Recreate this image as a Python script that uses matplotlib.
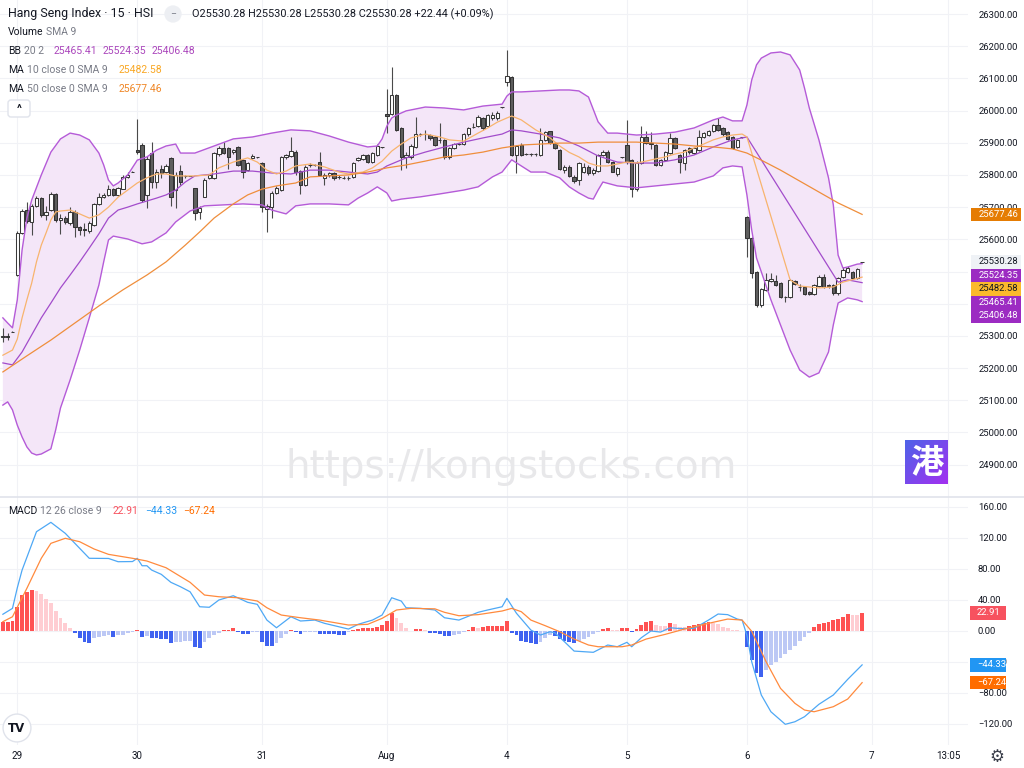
import matplotlib
matplotlib.use('Agg')
import matplotlib.pyplot as plt
import numpy as np
from matplotlib.patches import Rectangle, FancyBboxPatch
from matplotlib.ticker import FuncFormatter
from matplotlib.transforms import IdentityTransform
from matplotlib.lines import Line2D

plt.rcParams['font.family'] = ['Roboto', 'DejaVu Sans']

# ---------------- 15 min candles, Jul 28 tail .. Aug 6 ----------------
OPEN = [
    25296, 25300, 25313,
    # Jul 29
    25489, 25619, 25691, 25655, 25704, 25728, 25676, 25690, 25741, 25660, 25666, 25652, 25686,
    25639, 25633, 25627, 25645, 25710, 25731, 25738, 25757, 25738, 25757, 25794, 25810,
    # Jul 30
    25877, 25893, 25738, 25867, 25779, 25819, 25810, 25852, 25753, 25812, 25797, 25797, 25758,
    25685, 25733, 25790, 25790, 25864, 25883, 25885, 25870, 25886, 25846, 25815, 25852, 25855,
    # Jul 31
    25836, 25693, 25701, 25743, 25753, 25855, 25859, 25872, 25812, 25769, 25831, 25831, 25841,
    25790, 25800, 25807, 25795, 25792, 25791, 25794, 25845, 25849, 25862, 25841, 25862, 25886,
    # Aug 1
    25989, 25989, 26048, 25945, 25855, 25857, 25888, 25926, 25926, 25924, 25917, 25909, 25909,
    25855, 25883, 25896, 25896, 25926, 25948, 25952, 25976, 25952, 25976, 25976, 26010,
    # Aug 4
    26090, 26105, 25862, 25893, 25865, 25864, 25864, 25862, 25909, 25935, 25900, 25877, 25815,
    25826, 25795, 25784, 25810, 25826, 25805, 25812, 25862, 25872, 25839, 25802, 25855,
    # Aug 5
    25893, 25846, 25755, 25838, 25919, 25900, 25893, 25831, 25846, 25867, 25914, 25862, 25836,
    25883, 25867, 25877, 25919, 25925, 25935, 25955, 25945, 25932, 25917, 25888, 25917,
    # Aug 6
    25668, 25603, 25499, 25396, 25443, 25470, 25471, 25465, 25420, 25422, 25471, 25451, 25451,
    25437, 25430, 25455, 25484, 25458, 25458, 25432, 25482, 25499, 25499, 25479, 25530.28,
]
HIGH = [
    25325, 25310, 25315,
    25625, 25695, 25717, 25710, 25735, 25730, 25704, 25748, 25745, 25680, 25672, 25700, 25690,
    25642, 25651, 25658, 25712, 25745, 25745, 25769, 25760, 25763, 25800, 25810, 25812,
    25973, 25898, 25860, 25903, 25820, 25830, 25835, 25856, 25810, 25831, 25801, 25798, 25760,
    25703, 25790, 25804, 25870, 25890, 25901, 25888, 25880, 25890, 25850, 25840, 25866, 25857,
    25840, 25710, 25750, 25765, 25860, 25866, 25919, 25878, 25815, 25832, 25837, 25833, 25872,
    25805, 25810, 25810, 25800, 25798, 25796, 25840, 25856, 25866, 25866, 25870, 25895, 25888,
    26066, 26136, 26050, 25950, 25870, 25895, 25981, 25930, 25940, 25928, 25920, 25960, 25912,
    25886, 25900, 25900, 25930, 25948, 25960, 25985, 25980, 25990, 25995, 25998, 26012,
    26188, 26108, 25892, 25898, 25869, 25868, 25868, 25945, 25935, 25938, 25903, 25880, 25830,
    25830, 25800, 25840, 25838, 25830, 25822, 25866, 25876, 25876, 25842, 25825, 25857,
    25971, 25850, 25842, 25952, 25935, 25932, 25896, 25850, 25875, 25930, 25918, 25865, 25880,
    25886, 25886, 25940, 25932, 25940, 25958, 25976, 25948, 25935, 25920, 25912, 25919,
    25672, 25606, 25502, 25448, 25494, 25494, 25488, 25468, 25425, 25476, 25474, 25460, 25454,
    25440, 25460, 25488, 25492, 25462, 25460, 25482, 25515, 25517, 25502, 25510, 25530.28,
]
LOW = [
    25282, 25286, 25311,
    25485, 25615, 25650, 25613, 25700, 25670, 25660, 25688, 25655, 25618, 25648, 25645, 25608,
    25612, 25610, 25619, 25640, 25706, 25728, 25736, 25736, 25735, 25755, 25790, 25808,
    25865, 25717, 25696, 25760, 25760, 25790, 25805, 25702, 25696, 25770, 25792, 25796, 25660,
    25662, 25730, 25787, 25788, 25860, 25865, 25820, 25866, 25828, 25790, 25812, 25850, 25853,
    25686, 25624, 25666, 25740, 25750, 25850, 25856, 25800, 25740, 25766, 25826, 25829, 25798,
    25769, 25795, 25785, 25788, 25786, 25785, 25790, 25842, 25845, 25838, 25838, 25860, 25884,
    25929, 25985, 25935, 25815, 25821, 25850, 25885, 25922, 25910, 25910, 25890, 25900, 25850,
    25850, 25880, 25892, 25894, 25922, 25945, 25948, 25940, 25948, 25972, 25972, 26008,
    26076, 25860, 25805, 25858, 25861, 25860, 25860, 25858, 25905, 25895, 25880, 25815, 25805,
    25795, 25775, 25770, 25805, 25800, 25800, 25808, 25858, 25838, 25808, 25798, 25853,
    25835, 25733, 25750, 25835, 25895, 25880, 25828, 25828, 25843, 25865, 25880, 25805, 25815,
    25866, 25864, 25874, 25916, 25922, 25932, 25937, 25922, 25908, 25880, 25885, 25915,
    25546, 25480, 25390, 25390, 25440, 25466, 25455, 25418, 25405, 25418, 25458, 25440, 25428,
    25426, 25428, 25452, 25450, 25450, 25428, 25428, 25480, 25496, 25476, 25476, 25530.28,
]
CLOSE = [
    25300, 25297, 25313,
    25621, 25689, 25658, 25704, 25728, 25676, 25686, 25741, 25660, 25666, 25655, 25685, 25639,
    25630, 25630, 25651, 25710, 25733, 25738, 25757, 25738, 25760, 25794, 25800, 25810,
    25870, 25722, 25849, 25779, 25810, 25805, 25829, 25732, 25800, 25777, 25797, 25797, 25681,
    25697, 25784, 25800, 25867, 25883, 25867, 25857, 25877, 25831, 25808, 25836, 25859, 25855,
    25701, 25703, 25743, 25759, 25857, 25862, 25874, 25810, 25769, 25826, 25831, 25831, 25800,
    25800, 25807, 25790, 25795, 25792, 25791, 25836, 25853, 25862, 25841, 25867, 25890, 25886,
    25983, 26048, 25940, 25857, 25862, 25890, 25926, 25926, 25926, 25914, 25893, 25909, 25855,
    25883, 25896, 25896, 25926, 25945, 25950, 25979, 25945, 25986, 25986, 25993, 26010,
    26107, 25862, 25890, 25862, 25865, 25864, 25864, 25909, 25932, 25898, 25883, 25818, 25824,
    25798, 25781, 25836, 25826, 25805, 25815, 25862, 25872, 25841, 25810, 25821, 25855,
    25841, 25755, 25838, 25919, 25898, 25895, 25831, 25846, 25871, 25914, 25883, 25841, 25877,
    25870, 25883, 25919, 25929, 25937, 25955, 25940, 25926, 25911, 25883, 25909, 25917,
    25603, 25494, 25396, 25445, 25474, 25477, 25458, 25422, 25420, 25474, 25461, 25451, 25430,
    25430, 25458, 25484, 25453, 25456, 25432, 25479, 25505, 25510, 25479, 25507.84, 25530.28,
]

DAY_TICKS = [3, 28, 54, 80, 105, 130, 155, 181, 196.9]
DAY_LABELS = ['29', '30', '31', 'Aug', '4', '5', '6', '7', '13:05']

# ---------------- indicators (bar index, value) ----------------
BB_UP_X = [0, 1, 2, 3, 4, 5, 6, 8, 10, 12, 14, 16, 18, 20, 21, 22, 23, 24, 26, 28, 30, 32, 34, 36,
           37, 40, 44, 48, 52, 56, 60, 64, 68, 72, 76, 78, 79, 80, 81, 82, 84, 88, 92, 96, 100,
           104, 105, 106, 108, 112, 116, 118, 120, 122, 124, 126, 128, 132, 136, 140, 144, 148,
           150, 152, 154, 155, 156, 157, 158, 160, 162, 164, 166, 167, 168, 170, 172, 173, 174,
           175, 176, 178, 179]
BB_UP = [25356, 25340, 25325, 25412, 25567, 25666, 25722, 25800, 25871, 25912, 25930, 25924,
         25909, 25868, 25831, 25784, 25766, 25775, 25800, 25846, 25856, 25877, 25890, 25896,
         25868, 25868, 25890, 25912, 25918, 25930, 25940, 25937, 25921, 25902, 25887, 25890,
         25912, 25952, 25977, 25986, 25999, 26011, 26008, 26002, 26014, 26020, 26045, 26058,
         26058, 26061, 26064, 26064, 26061, 26042, 25965, 25930, 25930, 25924, 25927, 25933,
         25946, 25971, 25980, 25968, 25968, 26017, 26095, 26142, 26163, 26179, 26182, 26173,
         26126, 26070, 26008, 25909, 25791, 25707, 25551, 25511, 25514, 25523, 25524.35]

BB_MID_X = [0, 2, 4, 6, 8, 10, 12, 14, 16, 18, 20, 22, 24, 26, 28, 30, 32, 34, 36, 38, 40, 44,
            48, 52, 56, 60, 64, 68, 72, 76, 78, 80, 84, 88, 92, 96, 100, 104, 106, 108, 112,
            116, 120, 124, 128, 132, 136, 140, 144, 148, 152, 155, 174, 176, 179]
BB_MID = [25216, 25210, 25250, 25303, 25356, 25402, 25449, 25489, 25530, 25573, 25617, 25666,
          25691, 25700, 25710, 25719, 25728, 25738, 25753, 25778, 25797, 25803, 25812, 25812,
          25806, 25803, 25815, 25815, 25809, 25803, 25809, 25828, 25853, 25871, 25887, 25902,
          25915, 25927, 25940, 25937, 25927, 25915, 25890, 25859, 25840, 25837, 25837, 25847,
          25862, 25887, 25909, 25918, 25467, 25474, 25465.41]

BB_LOW_X = [0, 1, 2, 3, 4, 5, 6, 7, 8, 10, 11, 12, 14, 16, 18, 20, 21, 22, 23, 26, 29, 31, 34,
            36, 39, 42, 46, 50, 54, 56, 59, 61, 64, 68, 72, 74, 76, 78, 80, 81, 83, 87, 91, 96,
            99, 102, 104, 106, 108, 110, 113, 116, 118, 120, 122, 123, 124, 125, 128, 132, 136,
            140, 144, 148, 150, 152, 154, 155, 156, 157, 158, 160, 162, 164, 166, 168, 170, 172,
            173, 174, 176, 178, 179]
BB_LOW = [25085, 25095, 25070, 25023, 24986, 24955, 24936, 24930, 24933, 24949, 25008, 25076,
          25163, 25256, 25356, 25458, 25530, 25598, 25610, 25601, 25586, 25592, 25620, 25654,
          25688, 25704, 25707, 25710, 25707, 25691, 25679, 25704, 25710, 25710, 25707, 25728,
          25744, 25763, 25744, 25719, 25725, 25732, 25741, 25753, 25763, 25794, 25809, 25847,
          25828, 25809, 25809, 25791, 25763, 25744, 25728, 25725, 25753, 25778, 25766, 25760,
          25766, 25772, 25778, 25797, 25822, 25828, 25825, 25738, 25629, 25542, 25499, 25412,
          25334, 25256, 25194, 25172, 25185, 25250, 25334, 25402, 25418, 25412, 25406.48]

MA10_X = [0, 2, 3, 4, 5, 6, 7, 8, 9, 10, 11, 12, 14, 16, 18, 20, 22, 24, 26, 28, 30, 32, 34, 36,
          40, 43, 45, 48, 51, 53, 55, 57, 59, 61, 64, 67, 70, 72, 75, 77, 79, 81, 83, 85, 88,
          91, 93, 96, 99, 101, 103, 105, 106, 108, 111, 114, 116, 118, 120, 122, 124, 126, 128,
          130, 132, 134, 136, 138, 140, 142, 144, 146, 148, 150, 152, 154, 155, 164, 166, 170,
          173, 175, 179]
MA10 = [25240, 25256, 25290, 25356, 25412, 25464, 25530, 25582, 25620, 25660, 25685, 25688,
        25691, 25679, 25666, 25676, 25700, 25731, 25753, 25775, 25791, 25803, 25803, 25797,
        25797, 25800, 25822, 25840, 25853, 25840, 25815, 25803, 25812, 25828, 25834, 25825,
        25809, 25803, 25809, 25822, 25843, 25874, 25896, 25915, 25927, 25918, 25909, 25905,
        25930, 25946, 25964, 25977, 25983, 25971, 25940, 25915, 25890, 25870, 25856, 25837,
        25828, 25828, 25834, 25840, 25837, 25843, 25850, 25856, 25865, 25871, 25884, 25896,
        25909, 25918, 25924, 25927, 25918, 25474, 25455, 25449, 25452, 25467, 25482.58]

MA50_X = [0, 5, 10, 15, 20, 25, 30, 34, 38, 41, 44, 48, 51, 54, 57, 61, 64, 68, 72, 76, 80, 84,
          88, 92, 96, 100, 104, 108, 112, 116, 120, 124, 128, 132, 136, 140, 144, 148, 152, 155,
          158, 162, 166, 170, 174, 179]
MA50 = [25188, 25238, 25287, 25340, 25393, 25443, 25489, 25530, 25582, 25623, 25666, 25710,
        25738, 25756, 25766, 25775, 25794, 25797, 25800, 25809, 25822, 25831, 25843, 25856,
        25862, 25871, 25884, 25893, 25896, 25899, 25899, 25902, 25902, 25902, 25899, 25896,
        25890, 25887, 25881, 25868, 25846, 25815, 25781, 25747, 25713, 25677.46]

MACD_X = [0, 2, 3, 4, 7, 10, 13, 15, 18, 22, 24, 27, 28, 29, 30, 31, 33, 35, 37, 39, 41, 43, 45,
          48, 51, 53, 55, 57, 60, 62, 65, 67, 72, 74, 77, 79, 81, 83, 84, 87, 90, 92, 95, 99,
          101, 104, 105, 107, 110, 112, 114, 115, 117, 119, 123, 126, 128, 130, 131, 133, 135,
          137, 139, 141, 144, 147, 149, 151, 153, 154, 155, 156, 158, 160, 163, 165, 167, 170,
          173, 176, 179]
MACD = [21, 28.6, 55, 78, 127.5, 139.6, 125.4, 112.5, 93.2, 93, 88.8, 89, 93.2, 83.6, 83.6, 78,
        72.5, 62.2, 56.5, 50, 30.7, 30, 39.4, 44.9, 36.4, 33.8, 13.5, 3.6, 17.8, 12.3, 13.5, 9.3,
        1.9, 8, 13.5, 20, 42.3, 38, 29.4, 28.6, 26.5, 16.5, 13.5, 23.5, 26.5, 30.7, 41.5, 22.2,
        0.6, -5.8, -1.5, -3, -14.5, -26.5, -28.1, -18.7, -20.9, -15.2, -20.9, -9.3, -0.6, -2,
        3.6, 2.5, 2.8, 13.5, 21.3, 20.5, 14.8, 13.5, -6, -40.3, -83.2, -104.8, -121, -117.7,
        -111.2, -95.2, -83.2, -63, -44.33]

SIG_X = [0, 2, 5, 8, 10, 13, 16, 19, 22, 27, 30, 34, 39, 42, 45, 49, 53, 55, 58, 62, 66, 72, 76,
         79, 82, 85, 90, 92, 95, 99, 104, 106, 108, 110, 113, 116, 119, 122, 124, 129, 131, 134,
         138, 142, 147, 151, 154, 156, 159, 162, 165, 167, 169, 173, 176, 179]
SIGNAL = [11.4, 17.8, 54.5, 93.2, 112.5, 119, 114.6, 105.2, 98.3, 93.2, 89.7, 81, 62.2, 45.8,
          43.6, 42.3, 38.1, 29.4, 20, 16.5, 13.5, 7.1, 8, 15.7, 26.5, 28.6, 28, 23.5, 19.1, 20.5,
          25.2, 28.6, 24.3, 13.5, 6.2, -1.5, -11, -18.7, -20.9, -20.9, -18.7, -11, -4.9, 1.9,
          9.3, 14.8, 13.5, -1, -40.3, -74.6, -93.9, -102.6, -104.8, -98.3, -88.4, -67.24]

HIST = [
    10.5, 11, 12, 30.8, 45.8, 50.1, 52.3, 51, 46.7, 40.6,
    35.1, 25.2, 16.6, 9.2, 3.7, -3.7, -9.2, -14.4, -15.7, -10.1,
    -8, -6.7, -5.8, -8, -6.4, -5.8, -3.2, -2, 0.6, -8,
    -6.7, -9.2, -10.1, -10.4, -11, -15.7, -14.4, -14.2, -14, -13.8,
    -20.9, -22.2, -15.3, -9, -5.8, -2.8, 0.6, 1.1, 2.8, -1.5,
    -4.9, -5, -2.4, -2, -14.4, -19.6, -20, -16.6, -10.1, -4,
    0.6, -1.5, -4.9, -2.4, -2.2, -2, -4, -4.5, -4.9, -5,
    -5.2, -5.5, -2.4, 1, 2.5, 3, 3.5, 3.7, 4, 7.1,
    12.3, 22.2, 15.7, 9.2, 2.8, -0.5, 1.5, 1.6, 1, -2.8,
    -3.7, -4.2, -6.7, -6.8, -5.8, -4.9, -2, 1.1, 4.1, 2.8,
    5, 5.4, 5.6, 5.8, 6, 12.3, -3, -5.8, -13, -15.3,
    -16.6, -16.8, -14.4, -9.2, -5.8, -6.7, -11, -13.5, -15.3, -16.6,
    -13.5, -11, -8, -4.9, -1.5, 1.9, 2.8, 0.8, 0.6, 3.7,
    3.8, -1.5, 1.9, 7.1, 10.5, 12.3, 7.1, 5.8, 5.6, 9.2,
    8, 4.9, 4.7, 5.5, 7.1, 8, 9.2, 10.5, 10, 8,
    4.9, 2.8, 0.6, 0.4, -0.3, -20.9, -38, -55.3, -59.6, -51,
    -44.5, -40.2, -35.9, -30, -25.5, -20, -14, -8.5, -3.7, 4.9,
    8, 10.3, 10.6, 13, 15.5, 18, 20.9, 20.2, 20, 22.91,
]

W, H = 1024, 768
PX = IdentityTransform()
DARK = '#131722'
GRAY = '#787B86'
GRID = '#F1F2F6'
PURPLE = '#AB47BC'
TICK_FS = 6.8
LEG_FS = 7.5

fig = plt.figure(figsize=(W / 100, H / 100), dpi=100)
fig.patch.set_facecolor('white')
ax = fig.add_axes([0, 1 - 497 / H, 968 / W, 497 / H])
ax2 = fig.add_axes([0, 1 - 745 / H, 968 / W, 248 / H], sharex=ax)

for a in (ax, ax2):
    for s in a.spines.values():
        s.set_visible(False)
    a.set_axisbelow(True)
    a.grid(True, color=GRID, lw=0.8)
    a.yaxis.tick_right()
    a.tick_params(axis='both', length=0, labelsize=TICK_FS, labelcolor=DARK)

ax.set_xlim(-0.6, 201.06)
ax.set_xticks(DAY_TICKS)
ax2.set_xticklabels(DAY_LABELS)
ax.tick_params(axis='x', labelbottom=False)
ax2.tick_params(axis='x', labelsize=7.1, pad=4.5)

ax.set_ylim(24799.5, 26343.5)
ax.set_yticks(np.arange(24900, 26301, 100))
ax.tick_params(axis='y', pad=8)

ax2.set_ylim(-147.7, 172.3)
ax2.set_yticks(np.arange(-120, 161, 40))
ax2.yaxis.set_major_formatter(FuncFormatter(lambda v, p: f'{v:.2f}'.replace('-', '\u2212')))
ax2.tick_params(axis='y', pad=7.2)

# Bollinger band fill + lines
ax.fill(np.r_[BB_UP_X, BB_LOW_X[::-1]], np.r_[BB_UP, BB_LOW[::-1]],
        color='#F4E6F8', lw=0, zorder=1)
ax.plot(BB_UP_X, BB_UP, color='#B55BD8', lw=1.0, zorder=5)
ax.plot(BB_LOW_X, BB_LOW, color='#B55BD8', lw=1.0, zorder=5)
ax.plot(BB_MID_X, BB_MID, color='#A24CCB', lw=0.9, zorder=5)
ax.plot(MA10_X, MA10, color='#F8B46E', lw=0.9, zorder=5)
ax.plot(MA50_X, MA50, color='#EF8E3C', lw=0.9, zorder=5)

# candles
x = np.arange(len(CLOSE))
o, h, l, c = map(np.array, (OPEN, HIGH, LOW, CLOSE))
up = c >= o
ax.vlines(x, l, h, color='#4A4A4A', lw=0.8, zorder=3)
lo = np.minimum(o, c)
hh = np.abs(c - o)
ax.bar(x[up], hh[up], bottom=lo[up], width=0.74, color='white', edgecolor='#3A3A3A',
       lw=0.75, zorder=4)
ax.bar(x[~up], hh[~up], bottom=lo[~up], width=0.74, color='#5E5E5E', edgecolor='#333333',
       lw=0.75, zorder=4)

# MACD pane
hist = np.array(HIST)
cols = []
for i, v in enumerate(hist):
    prev = hist[i - 1] if i else v - 1
    if v >= 0:
        cols.append('#FF5252' if v >= prev else '#FFCDD2')
    else:
        cols.append('#3F62F0' if v < prev else '#BCC8F5')
ax2.bar(np.arange(len(hist)), hist, width=0.8, color=cols, zorder=3)
ax2.plot(MACD_X, MACD, color='#4EA8F5', lw=0.9, zorder=4)
ax2.plot(SIG_X, SIGNAL, color='#FF8A3D', lw=0.9, zorder=4)

# pane separator
fig.add_artist(Line2D([0, W], [H - 497, H - 497], transform=PX, color='#E0E3EB', lw=1.2))

# ---------------- texts ----------------
renderer = fig.canvas.get_renderer()


def chain(x0, y, parts, size=LEG_FS):
    for s, col, gap in parts:
        t = fig.text(x0, H - y, s, transform=PX, color=col, fontsize=size,
                     ha='left', va='center')
        x0 = t.get_window_extent(renderer).x1 + gap


def fmt(v):
    return f'{v:.2f}'.replace('-', '\u2212')


fig.text(8, H - 14, 'Hang Seng Index \u00b7 15 \u00b7 HSI', transform=PX, color=DARK,
         fontsize=8.9, ha='left', va='center')
fig.text(173, H - 14, '\u2212', transform=PX, color=GRAY, fontsize=7.5, ha='center',
         va='center', bbox=dict(boxstyle='circle,pad=0.35', fc='#EDEFF3', ec='none'))
chg = CLOSE[-1] - CLOSE[-2]
fig.text(192, H - 14, f'O{OPEN[-1]:.2f} H{HIGH[-1]:.2f} L{LOW[-1]:.2f} C{CLOSE[-1]:.2f} '
         f'+{chg:.2f} (+{chg / CLOSE[-2] * 100:.2f}%)', transform=PX, color=DARK,
         fontsize=7.8, ha='left', va='center')
chain(8, 32, [('Volume', DARK, 3), ('SMA 9', GRAY, 0)])
chain(8, 51, [('BB', DARK, 3), ('20 2', GRAY, 10), (fmt(BB_MID[-1]), PURPLE, 5),
              (fmt(BB_UP[-1]), PURPLE, 5), (fmt(BB_LOW[-1]), PURPLE, 0)])
chain(8, 70, [('MA', DARK, 3), ('10 close 0 SMA 9', GRAY, 11), (fmt(MA10[-1]), '#F9A825', 0)])
chain(8, 89, [('MA', DARK, 3), ('50 close 0 SMA 9', GRAY, 11), (fmt(MA50[-1]), '#EF8727', 0)])
fig.add_artist(FancyBboxPatch((8, H - 117), 22, 17, boxstyle='round,pad=0,rounding_size=3',
                              transform=PX, fc='white', ec='#E0E3EB', lw=1))
fig.text(19, H - 109, '^', transform=PX, color=DARK, fontsize=8, fontweight='bold',
         ha='center', va='center')
chain(8, 511, [('MACD', DARK, 3), ('12 26 close 9', GRAY, 11), (fmt(HIST[-1]), '#F7525F', 6),
               (fmt(MACD[-1]), '#2196F3', 6), (fmt(SIGNAL[-1]), '#FF6D00', 0)])


def y_px(a, v):
    return H - a.transData.transform((0, v))[1]


def tag(yc, text, fc, tc, x0, x1, tx):
    fig.add_artist(Rectangle((x0, H - yc - 6.75), x1 - x0, 13.5, transform=PX, fc=fc,
                             ec='none', zorder=5))
    fig.text(tx, H - yc, text, transform=PX, color=tc, fontsize=TICK_FS, ha='left',
             va='center', zorder=6)


# price tags on the right scale, stacked so they do not overlap
price_tags = [(MA50[-1], '#E57C03', 'white'), (CLOSE[-1], '#EFF2F6', DARK),
              (BB_UP[-1], '#9C2BC2', 'white'), (MA10[-1], '#FBB92C', DARK),
              (BB_MID[-1], '#9C2BC2', 'white'), (BB_LOW[-1], '#9C2BC2', 'white')]
last = -100
tag_y = []
for v, fc, tc in sorted(price_tags, key=lambda t: -t[0]):
    yc = max(y_px(ax, v), last + 13.5)
    tag(yc, fmt(v), fc, tc, 971, 1021, 979)
    tag_y.append(yc)
    last = yc

# scale labels sitting right under a tag are hidden, as the scale does
hidden = {v for v in np.arange(24900, 26301, 100)
          if any(abs(y_px(ax, v) - t) < 5 for t in tag_y)}
ax.yaxis.set_major_formatter(FuncFormatter(
    lambda v, p: '' if round(v) in hidden else f'{v:.2f}'))

for v, fc in [(HIST[-1], '#F7525F'), (MACD[-1], '#2196F3'), (SIGNAL[-1], '#FF6D00')]:
    tag(y_px(ax2, v), fmt(v), fc, 'white', 970, 1006, 977)

# watermark and logos
fig.text(511, H - 467, 'https://kongstocks.com', transform=PX, family='DejaVu Sans',
         fontsize=28, color='#E8E8EA', ha='center', va='center')
lax = fig.add_axes([905 / W, 1 - 484 / H, 43 / W, 44 / H])
g = np.linspace(0, 1, 64)
grad = np.clip((g[None, :] + (1 - g[:, None])) / 2, 0, 1)
lax.imshow(grad, cmap=matplotlib.colors.LinearSegmentedColormap.from_list(
    'k', ['#4E63E8', '#A330F0']), extent=(0, 1, 0, 1), aspect='auto', origin='lower')
lax.text(0.5, 0.47, '\u6e2f', color='white', fontsize=24, fontweight='bold',
         family=['Noto Sans CJK SC'], ha='center', va='center')
lax.axis('off')

fig.text(17, H - 728, 'TV', transform=PX, family='DejaVu Sans', fontsize=8.5,
         fontweight='bold', color='#131722', ha='center', va='center',
         bbox=dict(boxstyle='circle,pad=0.45', fc='white', ec='#E0E3EB', lw=1))
fig.text(997, H - 757, '\u2699', transform=PX, family='DejaVu Sans', fontsize=12,
         color='#3B3F4B', ha='center', va='center')

fig.savefig('out.png', dpi=100, facecolor='white')
